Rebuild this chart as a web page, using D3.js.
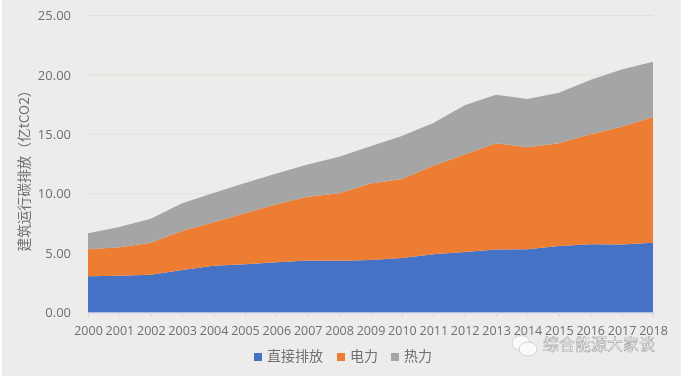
<!DOCTYPE html>
<html><head><meta charset="utf-8">
<script src="https://cdn.jsdelivr.net/npm/d3@7"></script>
<style>html,body{margin:0;padding:0;background:#fff}svg{display:block}</style></head>
<body><div id="chart"></div>
<script>
const years = [2000,2001,2002,2003,2004,2005,2006,2007,2008,2009,2010,2011,2012,2013,2014,2015,2016,2017,2018];
const direct = [3.06,3.10,3.17,3.57,3.93,4.07,4.24,4.38,4.36,4.41,4.58,4.90,5.10,5.30,5.33,5.60,5.75,5.72,5.87];
const electricity = [2.27,2.40,2.70,3.31,3.67,4.28,4.88,5.36,5.67,6.44,6.65,7.45,8.20,8.95,8.57,8.65,9.25,9.91,10.58];
const heat = [1.35,1.70,2.03,2.32,2.45,2.55,2.58,2.71,3.07,3.15,3.62,3.60,4.15,4.08,4.07,4.25,4.57,4.82,4.65];
const seriesNames = ["直接排放","电力","热力"];
const seriesColors = ["#4472c4","#ed7d31","#a5a5a5"];
const yTicks = [0,5,10,15,20,25];
const yTitle = "建筑运行碳排放（亿tCO2）";
const watermark = "综合能源大家谈";

const W=681,H=380;
const svg=d3.select("#chart").append("svg").attr("width",W).attr("height",H);
const font="'Open Sans','Noto Sans CJK SC',sans-serif";
const cjk="'Noto Sans CJK SC',sans-serif";
const defs=svg.append("defs");
defs.append("filter").attr("id","soft").append("feGaussianBlur").attr("stdDeviation",0.5);
defs.append("filter").attr("id","wm").append("feGaussianBlur").attr("stdDeviation",0.5);

svg.append("rect").attr("x",2).attr("y",0).attr("width",W-2).attr("height",376).attr("fill","#edecea");
const g=svg.append("g").attr("filter","url(#soft)");

const x=d3.scaleLinear().domain([2000,2018]).range([88,653]);
const y=d3.scaleLinear().domain([0,25]).range([312.5,15.5]);

// grid
g.append("g").selectAll("line").data(yTicks.slice(1)).join("line")
 .attr("x1",88).attr("x2",653).attr("y1",d=>y(d)).attr("y2",d=>y(d))
 .attr("stroke","#e2e1df").attr("stroke-width",1);

// areas
const rows=years.map((yr,i)=>({year:yr,a:direct[i],b:electricity[i],c:heat[i]}));
const stacked=d3.stack().keys(["a","b","c"])(rows);
const area=d3.area().x(d=>x(d.data.year)).y0(d=>y(d[0])).y1(d=>y(d[1]));
g.append("g").selectAll("path").data(stacked).join("path")
 .attr("d",area).attr("fill",(d,i)=>seriesColors[i]);

// x axis
const xAxis=d3.axisBottom(x).tickValues(years).tickFormat(d3.format("d")).tickSize(4).tickPadding(10);
const ax=g.append("g").attr("transform",`translate(0,${y(0)})`).call(xAxis);
ax.select(".domain").attr("stroke","#c9d3e8");
ax.selectAll(".tick line").attr("stroke","#d6d5d3");
ax.selectAll("text").attr("fill","#6f6f6f").attr("font-family",font).attr("font-size",12.5);

// y axis
const yAxis=d3.axisLeft(y).tickValues(yTicks).tickFormat(d3.format(".2f")).tickSize(0).tickPadding(17);
const ay=g.append("g").attr("transform","translate(88,0)").call(yAxis);
ay.select(".domain").remove();
ay.selectAll("text").attr("fill","#6f6f6f").attr("font-family",font).attr("font-size",13);

// y title
g.append("text").attr("transform","translate(25,167.5) rotate(-90)").attr("text-anchor","middle")
 .attr("dominant-baseline","middle").attr("fill","#6f6f6f").attr("font-family",cjk).attr("font-size",13.7).text(yTitle);

// legend
const legendX=[254,337,391];
const lg=g.append("g").selectAll("g").data(seriesNames).join("g")
 .attr("transform",(d,i)=>`translate(${legendX[i]},357)`);
lg.append("rect").attr("x",0).attr("y",-4).attr("width",8).attr("height",8).attr("fill",(d,i)=>seriesColors[i]);
lg.append("text").attr("x",13).attr("y",0).attr("dominant-baseline","middle").attr("fill","#6f6f6f")
 .attr("font-family",cjk).attr("font-size",14).text(d=>d);

// watermark
const wm=svg.append("g").attr("filter","url(#wm)");
wm.append("ellipse").attr("cx",521).attr("cy",343).attr("rx",9).attr("ry",7.5).attr("fill","#fafafa").attr("stroke","#bdbdbd").attr("stroke-width",.6);
wm.append("ellipse").attr("cx",528).attr("cy",349).attr("rx",9).attr("ry",7).attr("fill","#fafafa").attr("stroke","#bdbdbd").attr("stroke-width",.6);
wm.append("text").attr("x",543).attr("y",346).attr("dominant-baseline","middle").attr("fill","#fafafa")
 .attr("stroke","#8a8a8a").attr("stroke-width",.4).attr("font-family",cjk).attr("font-size",16).text(watermark);
</script></body></html>
